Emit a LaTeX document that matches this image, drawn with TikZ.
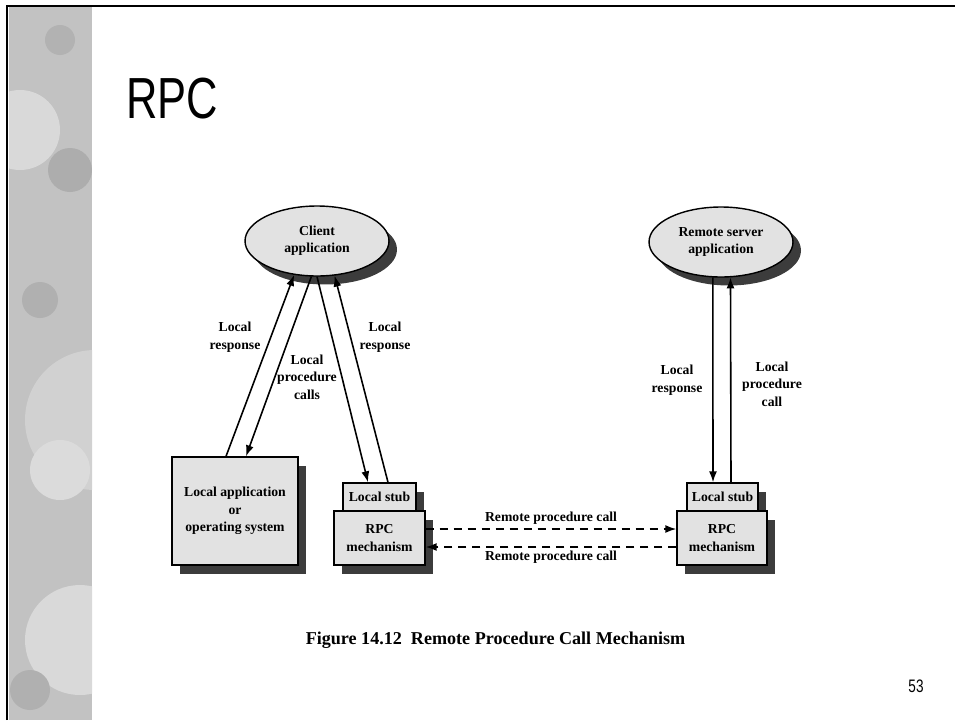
\documentclass[tikz,border=0pt]{standalone}
\usepackage{fontspec}
\setmainfont{Liberation Serif}
\newfontfamily\narrowfont[FakeStretch=0.75]{Liberation Sans}
\usetikzlibrary{shapes.geometric,arrows.meta}

\definecolor{boxgray}{HTML}{E2E2E2}
\definecolor{shadowgray}{HTML}{3C3C3C}

\tikzset{
    lbl/.style={font=\bfseries\fontsize{7.8}{9.9}\selectfont, align=center},
    dropshade/.style={preaction={fill=shadowgray, draw=none, transform canvas={shift={(0.16cm,-0.17cm)}}}},
    bubble/.style={ellipse, draw, thick, fill=boxgray, minimum width=2.88cm, minimum height=1.4cm, inner sep=0pt, lbl, dropshade},
    block/.style={rectangle, draw, thick, fill=boxgray, inner sep=0pt, lbl, dropshade},
    call/.style={line width=0.9pt, -{Latex[length=0.22cm,width=0.16cm]}},
    remote/.style={call, dash pattern=on 0.16cm off 0.12cm}
}

\begin{document}
\begin{tikzpicture}[x=0.02cm, y=-0.02cm]
        \useasboundingbox (0,0) rectangle (955,720);

        % slide frame and side strip
        \begin{scope}
            \clip (9,7) rectangle (92,720);
            \fill[gray!48] (9,7) rectangle (92,720);
            \fill[gray!30] (20,130) circle (40);
            \fill[gray!64] (70,170) circle (22);
            \fill[gray!36] (95,420) circle (70);
            \fill[gray!62] (40,300) circle (18);
            \fill[gray!28] (60,470) circle (30);
            \fill[gray!30] (80,640) circle (55);
            \fill[gray!62] (30,690) circle (20);
            \fill[gray!60] (60,40) circle (15);
        \end{scope}
        \draw[line width=1.2pt] (7,720) -- (7,6) -- (955,6);

        \node [anchor=west, inner sep=0pt, font=\narrowfont\fontsize{33}{36}\selectfont] (title) at (126,99) {RPC};

        \node [bubble] (client) at (317,241) {Client\\application};
        \node [bubble] (server) at (721,242) {Remote server\\application};

        \node [block, minimum width=2.52cm, minimum height=2.16cm] (app) at (235,511) {Local application\\or\\operating system};

        \node [block, minimum width=1.46cm, minimum height=0.56cm] (stubL) at (379.5,497) {Local stub};
        \node [block, minimum width=1.82cm, minimum height=1.08cm] (rpcL) at (379.5,538) {RPC\\mechanism};

        \node [block, minimum width=1.42cm, minimum height=0.56cm] (stubR) at (722.5,497) {Local stub};
        \node [block, minimum width=1.80cm, minimum height=1.08cm] (rpcR) at (722,538) {RPC\\mechanism};

        \draw [call] ([xshift=-0.18cm]app.north) -- (client.236.3);
        \draw [call] (client.261.9) -- ([xshift=0.22cm]app.north);
        \draw [call] (client.270) -- ([xshift=-0.23cm]stubL.north);
        \draw [call] ([xshift=0.17cm]stubL.north) -- (client.297.9);

        \draw [call] (server.257.1) -- ([xshift=-0.19cm]stubR.north);
        \draw [call] ([xshift=0.17cm]stubR.north) -- (server.285.9);

        \draw [remote] ([yshift=0.18cm]rpcL.east) -- node [above, lbl, inner sep=2pt] {Remote procedure call} ([yshift=0.18cm]rpcR.west);
        \draw [remote] ([yshift=-0.18cm]rpcR.west) -- node [below, lbl, inner sep=2pt] {Remote procedure call} ([yshift=-0.18cm]rpcL.east);

        \node [lbl] (resp1) at (235,337) {Local\\response};
        \node [lbl] (calls) at (307,377) {Local\\procedure\\calls};
        \node [lbl] (resp2) at (385,337) {Local\\response};
        \node [lbl] (resp3) at (677,380) {Local\\response};
        \node [lbl] (pcall) at (772,384) {Local\\procedure\\call};

        \node [font=\bfseries\fontsize{10.3}{12}\selectfont] (caption) at (495.5,640) {Figure 14.12\ \ Remote Procedure Call Mechanism};
        \node [font=\narrowfont\fontsize{10.3}{12}\selectfont] (page) at (916,686) {53};

    \end{tikzpicture}
\end{document}
